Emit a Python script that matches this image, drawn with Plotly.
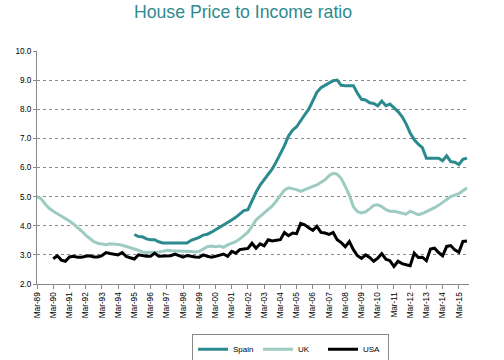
import plotly.graph_objects as go

# Quarterly categories Mar-89 .. Sep-15
months = ["Mar", "Jun", "Sep", "Dec"]
quarters = []
for y in range(1989, 2016):
    for m in months:
        quarters.append(f"{m}-{str(y)[2:]}")
quarters = quarters[:107]

tick_labels = quarters[::4]

uk = [5.00, 4.93, 4.75, 4.60, 4.50, 4.42, 4.33, 4.25, 4.16, 4.06,
      3.95, 3.82, 3.68, 3.58, 3.45, 3.40, 3.38, 3.35, 3.38, 3.38,
      3.36, 3.33, 3.28, 3.23, 3.20, 3.16, 3.10, 3.08, 3.08, 3.10,
      3.10, 3.12, 3.16, 3.14, 3.14, 3.13, 3.13, 3.13, 3.12, 3.10,
      3.12, 3.20, 3.28, 3.30, 3.28, 3.30, 3.26, 3.34, 3.40, 3.45,
      3.55, 3.65, 3.78, 3.98, 4.20, 4.32, 4.45, 4.55, 4.68, 4.85,
      5.05, 5.22, 5.30, 5.28, 5.24, 5.18, 5.24, 5.31, 5.35, 5.40,
      5.48, 5.58, 5.72, 5.80, 5.77, 5.62, 5.35, 5.05, 4.65, 4.48,
      4.44, 4.48, 4.58, 4.70, 4.72, 4.66, 4.55, 4.50, 4.50, 4.47,
      4.45, 4.40, 4.50, 4.45, 4.38, 4.42, 4.48, 4.55, 4.62, 4.70,
      4.80, 4.93, 5.00, 5.05, 5.10, 5.20, 5.30]

spain = [None] * 24 + [
      3.70, 3.63, 3.62, 3.55, 3.52, 3.52, 3.45, 3.41, 3.41, 3.41,
      3.41, 3.41, 3.41, 3.41, 3.50, 3.55, 3.60, 3.68, 3.71, 3.78,
      3.86, 3.95, 4.03, 4.12, 4.20, 4.29, 4.42, 4.52, 4.55, 4.88,
      5.15, 5.40, 5.58, 5.78, 5.95, 6.20, 6.45, 6.75, 7.08, 7.28,
      7.40, 7.62, 7.81, 8.00, 8.30, 8.58, 8.74, 8.82, 8.90, 8.98,
      9.00, 8.82, 8.81, 8.81, 8.81, 8.55, 8.34, 8.32, 8.22, 8.20,
      8.12, 8.28, 8.12, 8.18, 8.05, 7.92, 7.75, 7.50, 7.18, 6.95,
      6.80, 6.68, 6.32, 6.32, 6.32, 6.32, 6.23, 6.40, 6.20, 6.18,
      6.10, 6.28, 6.32]

usa = [None] * 4 + [
      2.87, 2.97, 2.82, 2.78, 2.93, 2.95, 2.92, 2.92, 2.95, 2.97,
      2.93, 2.93, 2.97, 3.08, 3.05, 3.03, 3.00, 3.08, 2.95, 2.90,
      2.86, 3.00, 2.97, 2.95, 2.95, 3.06, 2.95, 2.95, 2.95, 2.97,
      3.03, 2.97, 2.92, 2.98, 2.95, 2.93, 2.92, 3.00, 2.95, 2.92,
      2.95, 2.98, 3.03, 2.95, 3.12, 3.06, 3.18, 3.20, 3.22, 3.40,
      3.23, 3.38, 3.31, 3.52, 3.48, 3.50, 3.52, 3.77, 3.66, 3.75,
      3.73, 4.08, 4.03, 3.93, 3.84, 3.98, 3.77, 3.75, 3.70, 3.77,
      3.52, 3.42, 3.28, 3.46, 3.18, 2.97, 2.88, 3.00, 2.91, 2.78,
      2.89, 3.04, 2.85, 2.80, 2.60, 2.78, 2.70, 2.66, 2.63, 3.06,
      2.91, 2.92, 2.80, 3.20, 3.23, 3.08, 2.97, 3.29, 3.32, 3.17,
      3.09, 3.46, 3.48]

series_names = ["Spain", "UK", "USA"]
colors = ["#2A8A8E", "#9DCBC2", "#000000"]

fig = go.Figure()
for name, vals, col in zip(series_names, [spain, uk, usa], colors):
    fig.add_trace(go.Scatter(x=quarters, y=vals, name=name, mode="lines",
                             line=dict(color=col, width=3),
                             connectgaps=False))

font_family = "Liberation Sans, Arial, sans-serif"

fig.update_layout(
    width=504, height=360,
    margin=dict(l=37, r=35, t=51, b=76, autoexpand=False),
    paper_bgcolor="white", plot_bgcolor="white",
    font=dict(family=font_family, color="#000000"),
    title=dict(text="House Price to Income ratio", x=243 / 504, xref="container",
               xanchor="center", y=1 - 12 / 360, yanchor="middle",
               font=dict(size=17.7, color="#2F8A8F", family=font_family)),
    showlegend=True,
    legend=dict(orientation="h", x=(290.5 - 37) / 432, xanchor="center",
                y=-(334 - 284.3) / 233.3, yanchor="top",
                bordercolor="#888888", borderwidth=1, bgcolor="white",
                font=dict(size=8, family=font_family),
                entrywidth=20, entrywidthmode="pixels",
                itemwidth=30, tracegroupgap=0),
)

fig.update_xaxes(type="category", range=[0, 106.5],
                 tickmode="array", tickvals=tick_labels, ticktext=tick_labels,
                 tickangle=-90, tickfont=dict(size=8.2),
                 showline=True, linecolor="#888888", linewidth=1,
                 ticks="outside", ticklen=4, tickcolor="#888888",
                 showgrid=False, zeroline=False)
fig.update_yaxes(range=[2, 10], dtick=1, tickformat=".1f",
                 tickfont=dict(size=8.2),
                 showline=True, linecolor="#888888", linewidth=1,
                 ticks="outside", ticklen=3, tickcolor="#888888",
                 showgrid=True, gridcolor="#8A8A8A", griddash="dot", gridwidth=1,
                 zeroline=False)

fig.write_html("out.html", config={"displayModeBar": False},
               post_script="document.body.style.margin='0';")
